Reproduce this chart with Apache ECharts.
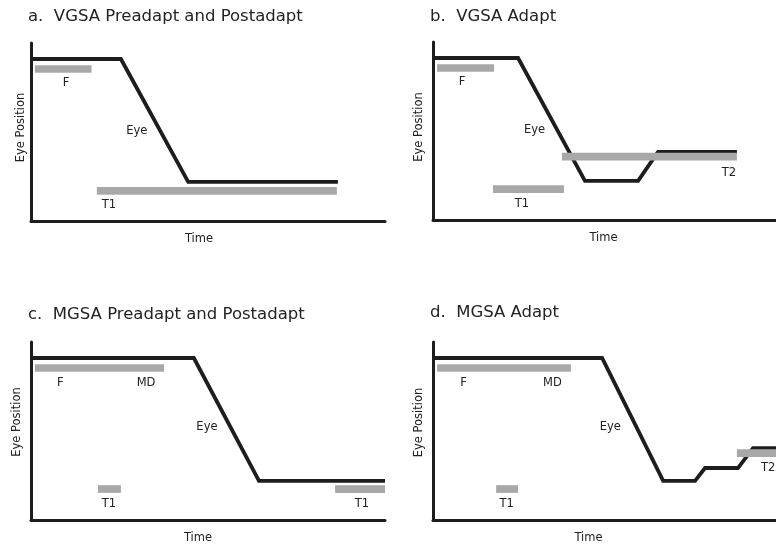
<!DOCTYPE html>
<html>
<head>
<meta charset="utf-8">
<script src="https://cdn.jsdelivr.net/npm/echarts@6/dist/echarts.min.js"></script>
<style>
html,body{margin:0;padding:0;background:#fff;}
#chart{width:776px;height:547px;}
</style>
</head>
<body>
<div id="chart"></div>
<script>
// ---- data (time units 0..100, eye-position units 0..100) ----
const panelTitles = ['a.  VGSA Preadapt and Postadapt', 'b.  VGSA Adapt', 'c.  MGSA Preadapt and Postadapt', 'd.  MGSA Adapt'];
const xAxisName = 'Time';
const yAxisName = 'Eye Position';

const eyeA = [[0, 91], [25.4, 91], [44.4, 22], [86.7, 22]];
const eyeB = [[0, 91], [24.8, 91], [44.3, 22], [59.8, 22], [65.6, 38.2], [88.6, 38.2]];
const eyeC = [[0, 91], [46, 91], [64.4, 22], [100, 22]];
const eyeD = [[0, 91], [49.3, 91], [67.1, 22], [76.4, 22], [79.3, 29.2], [88.9, 29.2], [93.3, 40.4], [100, 40.4]];

// target bars: [start, end, level]
const barsA = [[1.1, 17.1, 85.4], [18.6, 86.4, 16.9]];
const barsB = [[1.2, 17.8, 85.4], [17.5, 38.2, 17.4], [37.6, 88.6, 35.6]];
const barsC = [[1.1, 37.6, 85.4], [18.9, 25.4, 17.4], [85.9, 100, 17.4]];
const barsD = [[1.2, 40.2, 85.4], [18.4, 24.8, 17.4], [88.6, 100, 37.6]];

// annotations: [text, time, position]
const labelsA = [['F', 9.9, 77.5], ['T1', 22, 8.8], ['Eye', 29.9, 50.6]];
const labelsB = [['F', 8.5, 77.7], ['T1', 25.9, 9], ['T2', 86.3, 26.4], ['Eye', 29.6, 50.6]];
const labelsC = [['F', 8.3, 77.2], ['MD', 32.5, 77.2], ['T1', 22, 8.8], ['T1', 93.5, 8.8], ['Eye', 49.7, 52.2]];
const labelsD = [['F', 8.9, 77.2], ['MD', 34.8, 77.2], ['T1', 21.5, 8.8], ['T2', 97.7, 29.2], ['Eye', 51.7, 52.2]];

const eyes = [eyeA, eyeB, eyeC, eyeD];
const bars = [barsA, barsB, barsC, barsD];
const labels = [labelsA, labelsB, labelsC, labelsD];

// ---- layout ----
const FONT = 'DejaVu Sans';
const grids = [
  {left: 31, top: 43, width: 354, height: 178},
  {left: 433, top: 42, width: 343, height: 178},
  {left: 31, top: 342, width: 354, height: 178},
  {left: 433, top: 342, width: 343, height: 178}
];
const titlePos = [{left: 28, top: 8}, {left: 430, top: 8}, {left: 28, top: 306}, {left: 430, top: 304}];
const yNameGap = [4, 8, 8, 8];
const yNameShift = [9, 8, 18, 17];
const xNameShift = [18, 2, 20, 32];

const INK = '#1d1d1d';
const GRAY = '#a7a8aa';
const TEXT = '#222222';

const chart = echarts.init(document.getElementById('chart'), null, {renderer: 'canvas'});

const option = {
  animation: false,
  backgroundColor: '#ffffff',
  title: panelTitles.map((t, i) => ({
    text: t, left: titlePos[i].left, top: titlePos[i].top, padding: 0,
    textStyle: {fontFamily: FONT, fontSize: 16.5, fontWeight: 'normal', color: TEXT}
  })),
  grid: grids.map(g => Object.assign({containLabel: false}, g)),
  xAxis: grids.map((g, i) => ({
    type: 'value', gridIndex: i, min: 0, max: 100,
    name: xAxisName, nameLocation: 'middle', nameGap: 12,
    nameTextStyle: {fontFamily: FONT, fontSize: 11.5, color: TEXT, padding: [0, xNameShift[i], 0, 0]},
    axisLine: {show: true, onZero: false, lineStyle: {color: INK, width: 3}},
    axisTick: {show: false}, axisLabel: {show: false}, splitLine: {show: false}
  })),
  yAxis: grids.map((g, i) => ({
    type: 'value', gridIndex: i, min: 0, max: 100,
    name: yAxisName, nameLocation: 'middle', nameGap: yNameGap[i],
    nameTextStyle: {fontFamily: FONT, fontSize: 11.5, color: TEXT, padding: [0, 0, 0, yNameShift[i]]},
    axisLine: {show: true, onZero: false, lineStyle: {color: INK, width: 3}},
    axisTick: {show: false}, axisLabel: {show: false}, splitLine: {show: false}
  })),
  series: []
};

for (let i = 0; i < 4; i++) {
  option.series.push({
    type: 'line', xAxisIndex: i, yAxisIndex: i, data: eyes[i],
    symbol: 'none', silent: true, clip: false, z: 3,
    lineStyle: {color: INK, width: 3.8, join: 'miter', cap: 'butt'}
  });
  bars[i].forEach(b => {
    option.series.push({
      type: 'line', xAxisIndex: i, yAxisIndex: i,
      data: [[b[0], b[2]], [b[1], b[2]]],
      symbol: 'none', silent: true, clip: false, z: 4,
      lineStyle: {color: GRAY, width: 7.7, cap: 'butt'}
    });
  });
  option.series.push({
    type: 'scatter', xAxisIndex: i, yAxisIndex: i, silent: true, z: 5,
    symbolSize: 0,
    data: labels[i].map(l => ({name: l[0], value: [l[1], l[2]]})),
    itemStyle: {color: 'rgba(0,0,0,0)'},
    label: {show: true, position: 'inside', formatter: p => p.name,
      fontFamily: FONT, fontSize: 11.5, color: TEXT, opacity: 1,
      textBorderWidth: 0, textBorderColor: 'transparent'}
  });
}

chart.setOption(option);
</script>
</body>
</html>
